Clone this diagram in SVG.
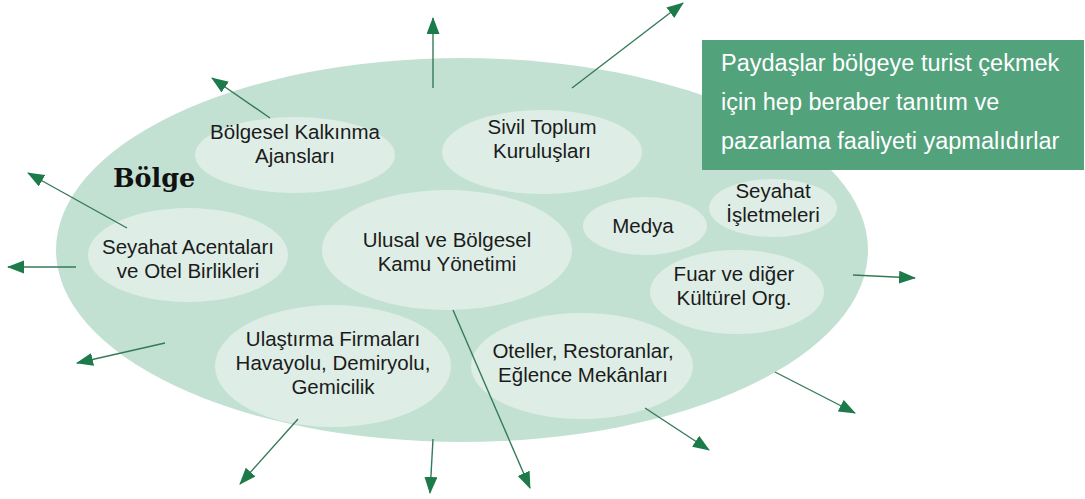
<svg xmlns="http://www.w3.org/2000/svg" width="1085" height="499" viewBox="0 0 1085 499">
<style>
.region{fill:#c3e1d3}
.node ellipse{fill:#deeee6}
.lbl{font-family:"Liberation Sans",Arial,sans-serif;font-size:20.5px;fill:#1b1b1b;text-anchor:middle}
.box-t{font-family:"Liberation Sans",Arial,sans-serif;font-size:23.5px;fill:#ffffff}
.conn line{stroke:#357a58;stroke-width:1.4;marker-end:url(#ah)}
</style>
<defs>
<marker id="ah" markerUnits="userSpaceOnUse" markerWidth="18" markerHeight="14" refX="16" refY="6.5" orient="auto">
<path d="M0,0 L17,6.5 L0,13 Z" fill="#1d7a49"/>
</marker>
</defs>
<rect width="1085" height="499" fill="#ffffff"/>
<g id="region">
<ellipse class="region" cx="462" cy="250" rx="406" ry="192"/>
<text x="113" y="187" font-family="'DejaVu Serif','Liberation Serif',serif" font-weight="bold" font-size="25.5" fill="#111">Bölge</text>
</g>
<g id="n-kalkinma" class="node">
<ellipse cx="295" cy="155" rx="100" ry="38"/>
<text class="lbl" x="295" y="139">Bölgesel Kalkınma</text>
<text class="lbl" x="295" y="163">Ajansları</text>
</g>
<g id="n-acenta" class="node">
<ellipse cx="188" cy="255" rx="100" ry="47"/>
<text class="lbl" x="188" y="254">Seyahat Acentaları</text>
<text class="lbl" x="188" y="278">ve Otel Birlikleri</text>
</g>
<g id="n-ulastirma" class="node">
<ellipse cx="333" cy="366" rx="118" ry="61"/>
<text class="lbl" x="333" y="346">Ulaştırma Firmaları</text>
<text class="lbl" x="333" y="370">Havayolu, Demiryolu,</text>
<text class="lbl" x="333" y="394">Gemicilik</text>
</g>
<g id="n-kamu" class="node">
<ellipse cx="447" cy="250" rx="125" ry="60"/>
<text class="lbl" x="447" y="247">Ulusal ve Bölgesel</text>
<text class="lbl" x="447" y="271">Kamu Yönetimi</text>
</g>
<g id="n-stk" class="node">
<ellipse cx="542" cy="152" rx="100" ry="42"/>
<text class="lbl" x="542" y="134">Sivil Toplum</text>
<text class="lbl" x="542" y="158">Kuruluşları</text>
</g>
<g id="n-medya" class="node">
<ellipse cx="645" cy="226" rx="62" ry="29"/>
<text class="lbl" x="643" y="233">Medya</text>
</g>
<g id="n-isletme" class="node">
<ellipse cx="773" cy="208" rx="64" ry="29"/>
<text class="lbl" x="773" y="198">Seyahat</text>
<text class="lbl" x="773" y="222">İşletmeleri</text>
</g>
<g id="n-fuar" class="node">
<ellipse cx="737" cy="292" rx="87" ry="42"/>
<text class="lbl" x="734" y="281">Fuar ve diğer</text>
<text class="lbl" x="734" y="305">Kültürel Org.</text>
</g>
<g id="n-otel" class="node">
<ellipse cx="582" cy="366" rx="111" ry="53"/>
<text class="lbl" x="583" y="358">Oteller, Restoranlar,</text>
<text class="lbl" x="583" y="382">Eğlence Mekânları</text>
</g>
<g id="n-note">
<rect x="702" y="40" width="382" height="130" fill="#52a27c"/>
<text class="box-t" x="721" y="71">Paydaşlar bölgeye turist çekmek</text>
<text class="box-t" x="721" y="110">için hep beraber tanıtım ve</text>
<text class="box-t" x="721" y="149">pazarlama faaliyeti yapmalıdırlar</text>
</g>
<g id="connectors" class="conn">
<line x1="433" y1="88" x2="433" y2="18"/>
<line x1="270" y1="118" x2="212" y2="78"/>
<line x1="127" y1="228" x2="28" y2="173"/>
<line x1="76" y1="267" x2="8" y2="267"/>
<line x1="165" y1="343" x2="77" y2="363"/>
<line x1="298" y1="419" x2="240" y2="484"/>
<line x1="433" y1="439" x2="430" y2="493"/>
<line x1="453" y1="310" x2="530" y2="488"/>
<line x1="645" y1="408" x2="709" y2="450"/>
<line x1="775" y1="372" x2="855" y2="413"/>
<line x1="853" y1="275" x2="915" y2="278"/>
<line x1="572" y1="88" x2="683" y2="3"/>
</g>
</svg>
